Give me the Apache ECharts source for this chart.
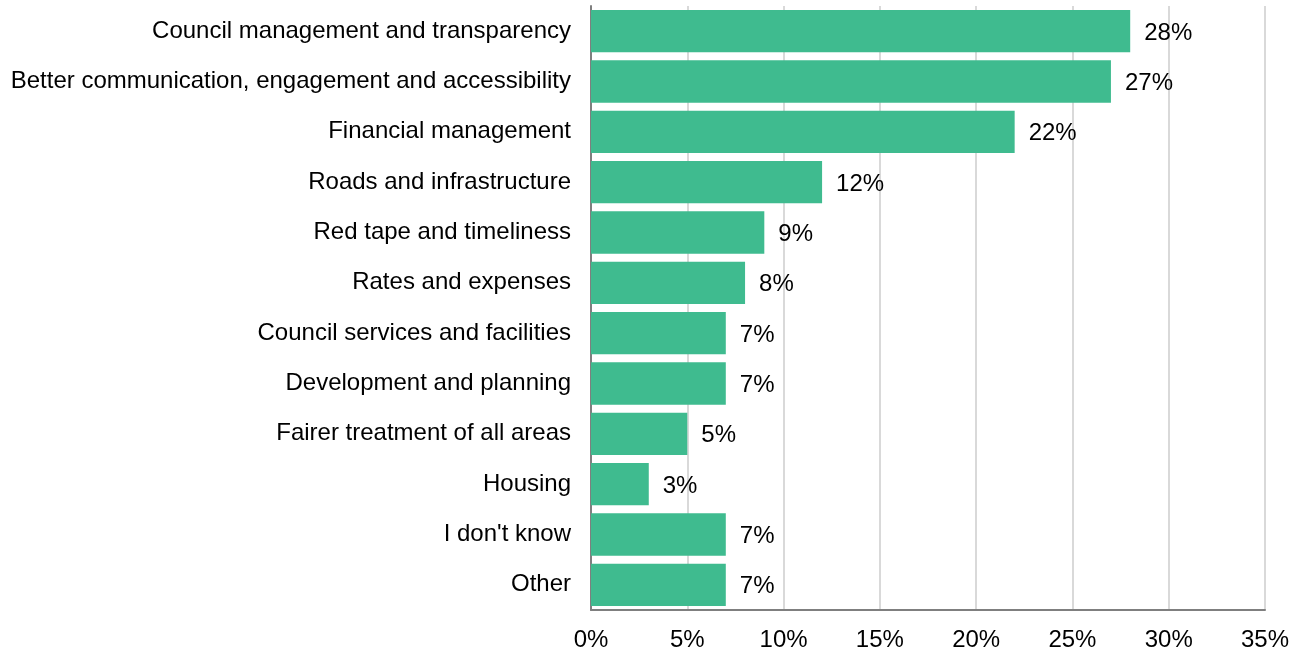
<!DOCTYPE html>
<html>
<head>
<meta charset="utf-8">
<script src="https://cdn.jsdelivr.net/npm/echarts@6/dist/echarts.min.js"></script>
<style>
  html, body { margin: 0; padding: 0; background: #ffffff; }
  #chart { width: 1302px; height: 653px; }
</style>
</head>
<body>
<div id="chart"></div>
<script>
// Categories listed top to bottom
const categories = [
  "Council management and transparency",
  "Better communication, engagement and accessibility",
  "Financial management",
  "Roads and infrastructure",
  "Red tape and timeliness",
  "Rates and expenses",
  "Council services and facilities",
  "Development and planning",
  "Fairer treatment of all areas",
  "Housing",
  "I don't know",
  "Other"
];
// Share of responses (%)
const shares = [28, 27, 22, 12, 9, 8, 7, 7, 5, 3, 7, 7];
const tickMax = 35;
const tickStep = 5;

const chart = echarts.init(document.getElementById('chart'), null, { renderer: 'canvas' });
const font = '"Liberation Sans", Arial, sans-serif';

chart.setOption({
  animation: false,
  backgroundColor: '#ffffff',
  grid: { left: 591, right: 37, top: 6, bottom: 43, containLabel: false },
  xAxis: {
    type: 'value',
    min: 0,
    max: tickMax,
    interval: tickStep,
    axisLine: { show: true, lineStyle: { color: '#7f7f7f', width: 2 } },
    axisTick: { show: false },
    axisLabel: {
      formatter: '{value}%',
      color: '#000000',
      fontFamily: font,
      fontSize: 24,
      margin: 18
    },
    splitLine: { show: true, lineStyle: { color: '#cccccc', width: 1.5 } }
  },
  yAxis: {
    type: 'category',
    inverse: true,
    data: categories,
    axisLine: { show: true, lineStyle: { color: '#7f7f7f', width: 2 } },
    axisTick: { show: false },
    axisLabel: {
      color: '#000000',
      fontFamily: font,
      fontSize: 24,
      margin: 20,
      padding: [2, 0, 0, 0]
    }
  },
  series: [{
    type: 'bar',
    data: shares,
    barCategoryGap: '16%',
    itemStyle: { color: '#3fbb8f' },
    label: {
      show: true,
      position: 'right',
      distance: 14,
      offset: [0, 2],
      formatter: '{c}%',
      color: '#000000',
      fontFamily: font,
      fontSize: 24
    }
  }]
});
</script>
</body>
</html>
